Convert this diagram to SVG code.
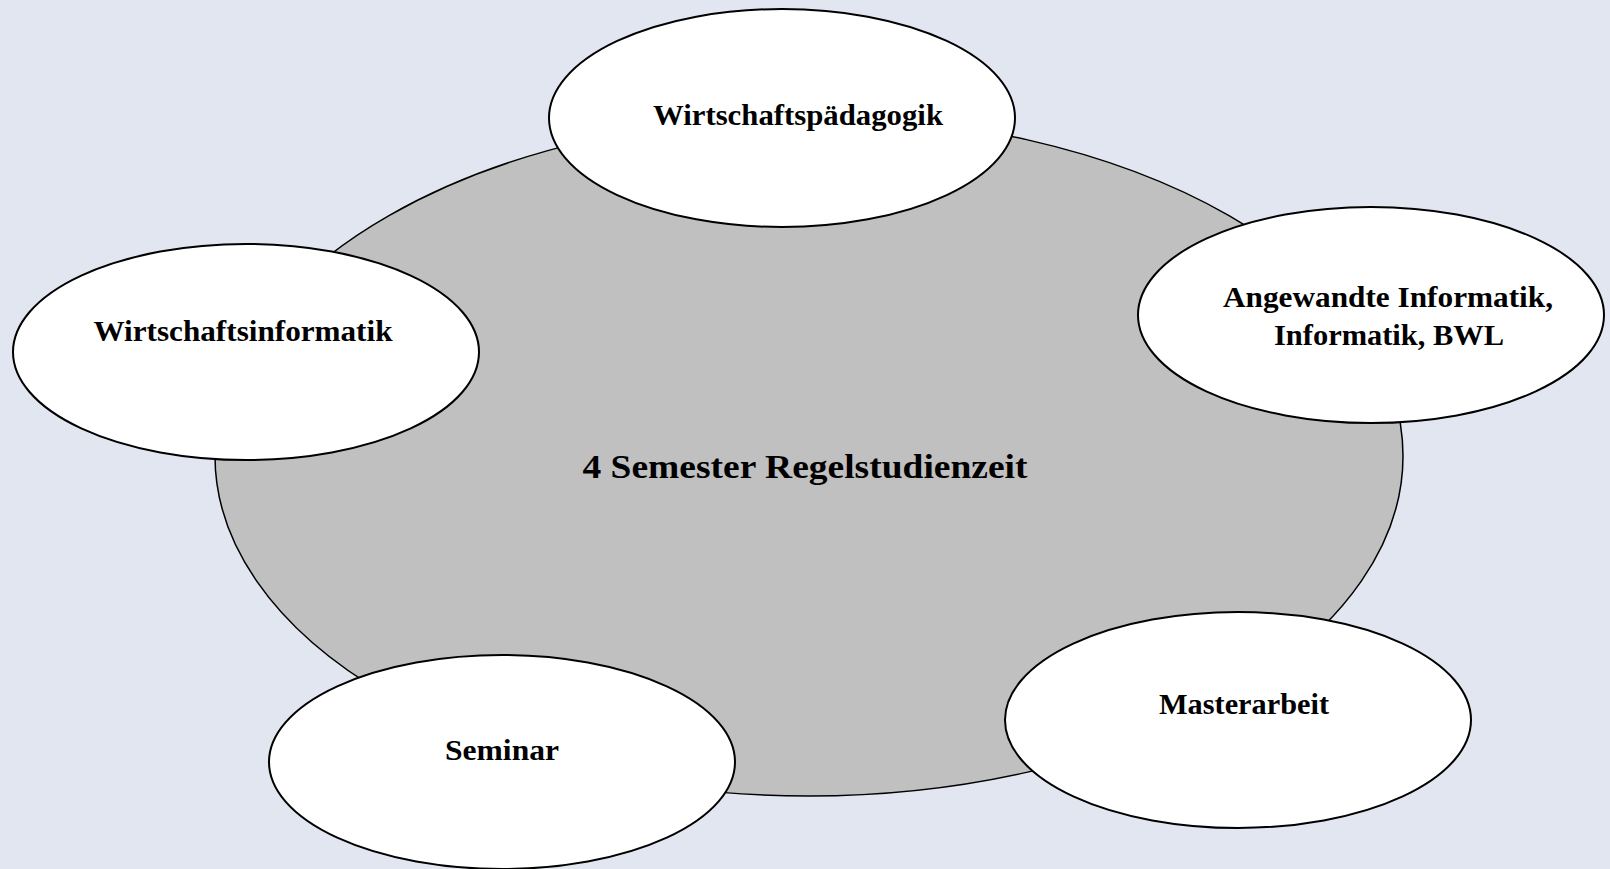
<svg xmlns="http://www.w3.org/2000/svg" width="1610" height="869" viewBox="0 0 1610 869">
<style>
.bg{fill:#e1e6f0}
.big{fill:#c0c0c0;stroke:#000;stroke-width:1.5}
.node{fill:#fff;stroke:#000;stroke-width:2}
text{font-family:"Liberation Serif","DejaVu Serif",serif;font-weight:bold;fill:#000;text-anchor:middle}
.t{font-size:29px}
.c{font-size:34px}
</style>
<rect class="bg" x="0" y="0" width="1610" height="869"/>
<g id="center">
<ellipse class="big" cx="809" cy="456" rx="594" ry="340"/>
<text class="c" x="805" y="478" textLength="445" lengthAdjust="spacingAndGlyphs">4 Semester Regelstudienzeit</text>
</g>
<g id="connectors"></g>
<g id="wirtschaftspaedagogik">
<ellipse class="node" cx="782" cy="118" rx="233" ry="109"/>
<text class="t" x="798" y="125" textLength="290" lengthAdjust="spacingAndGlyphs">Wirtschaftspädagogik</text>
</g>
<g id="wirtschaftsinformatik">
<ellipse class="node" cx="246" cy="352" rx="233" ry="108"/>
<text class="t" x="243" y="341" textLength="299" lengthAdjust="spacingAndGlyphs">Wirtschaftsinformatik</text>
</g>
<g id="angewandte">
<ellipse class="node" cx="1371" cy="315" rx="233" ry="108"/>
<text class="t" x="1388" y="307" textLength="330" lengthAdjust="spacingAndGlyphs">Angewandte Informatik,</text>
<text class="t" x="1389" y="345" textLength="230" lengthAdjust="spacingAndGlyphs">Informatik, BWL</text>
</g>
<g id="masterarbeit">
<ellipse class="node" cx="1238" cy="720" rx="233" ry="108"/>
<text class="t" x="1244" y="714" textLength="170" lengthAdjust="spacingAndGlyphs">Masterarbeit</text>
</g>
<g id="seminar">
<ellipse class="node" cx="502" cy="762" rx="233" ry="107"/>
<text class="t" x="502" y="760" textLength="114" lengthAdjust="spacingAndGlyphs">Seminar</text>
</g>
</svg>
